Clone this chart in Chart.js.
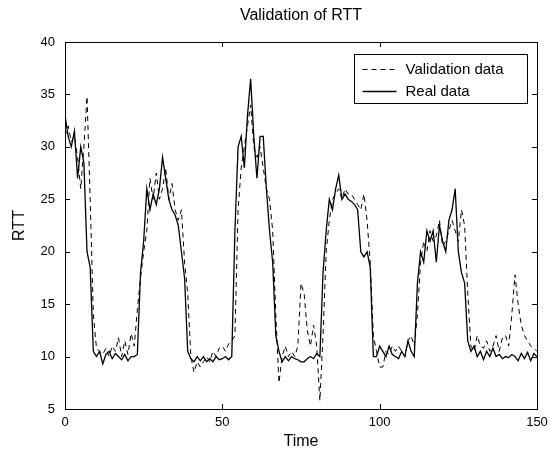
<!DOCTYPE html>
<html>
<head>
<meta charset="utf-8">
<script src="https://cdn.jsdelivr.net/npm/chart.js@4"></script>
<style>
html,body{margin:0;padding:0;background:#fff;}
#c{display:block;}
</style>
</head>
<body>
<canvas id="c" width="550" height="459"></canvas>
<script>
const chartTitle = "Validation of RTT";
const xTitle = "Time";
const yTitle = "RTT";
const xTicks = [0, 50, 100, 150];
const yTicks = [5, 10, 15, 20, 25, 30, 35, 40];
const seriesNames = ["Validation data", "Real data"];

const realData = [
 33, 31, 30, 31.5, 27, 30, 28.5, 20, 18.5, 10.5,
 10, 10.5, 9.3, 10.2, 10.5, 9.8, 10.3, 10, 9.7, 10.2,
 9.6, 10, 10, 10.2, 18, 21, 26, 24, 25.5, 24.5,
 26, 29, 27, 25, 24, 23.5, 22.5, 20, 17.5, 10.5,
 9.8, 9.5, 10, 9.6, 10, 9.5, 9.8, 9.5, 10, 9.7,
 9.8, 10, 9.7, 10, 22, 30, 31, 28, 33, 36.5,
 31, 27, 31, 31, 26, 22, 19, 12, 10.5, 9.5,
 10, 9.6, 10, 9.8, 9.7, 9.5, 9.5, 9.8, 10, 9.8,
 10.3, 10, 18, 22, 25, 24, 26, 27.3, 25, 25.5,
 25, 24.8, 24.5, 24, 20, 19.5, 20, 18.5, 10, 10,
 11, 10.5, 10, 11, 10.2, 10, 9.8, 10.5, 10, 11.5,
 10.5, 10, 17, 20, 19, 22, 21, 22, 19, 22.5,
 21, 20, 23, 24, 26, 20, 18, 17, 11.5, 10.5,
 11, 10, 10.5, 9.7, 10.5, 10, 10.8, 10, 10.2, 9.8,
 10, 9.9, 10.2, 10, 9.6, 10.3, 9.8, 10.4, 9.6, 10.3,
 10
];

const validationData = [
 31, 32, 30.5, 31, 29, 26, 30, 34.8, 25, 14,
 10.8, 10.5, 10.2, 10.8, 10, 11, 10.5, 11.8, 10, 11.5,
 10.2, 12.2, 11, 14.5, 17.5, 20, 22, 27, 25, 27.5,
 25, 26, 28, 25, 26.5, 24, 23, 24, 19, 16,
 10, 8.5, 9.5, 9, 9.5, 10, 9.5, 10.5, 10, 10.8,
 11, 10.5, 11.2, 11.5, 12, 24, 28, 30, 32, 34,
 30, 29, 30, 28, 26, 25, 22, 14, 7.5, 10,
 11, 10, 10.5, 10, 11, 17, 16, 12.5, 11, 13,
 11, 5.8, 12, 20, 23, 25, 25.5, 26, 25, 26,
 25.5, 25.5, 25, 24.5, 24, 25.5, 23, 19, 12, 10.5,
 9, 9, 10.5, 10.2, 11, 10.5, 11, 10.5, 10, 11.5,
 12, 11, 14, 19, 21, 20, 22, 21, 21.5, 23,
 20.5, 21, 22, 23, 22, 21, 24, 22.5, 16, 11,
 10.5, 12, 11, 10.8, 11.5, 10.5, 11, 12, 10.5, 11.8,
 12, 11, 14, 17.8, 15, 13, 12, 11.5, 11, 10.8,
 10.5
];

const time = realData.map((_, i) => i);

function toXY(vals) { return vals.map((v, i) => ({x: time[i], y: v})); }

const FONT = "'Liberation Sans', Arial, Helvetica, sans-serif";

const boxTicksPlugin = {
  id: 'boxTicks',
  afterDraw(chart) {
    const ctx = chart.ctx, a = chart.chartArea;
    const xs = chart.scales.x, ys = chart.scales.y;
    ctx.save();
    ctx.strokeStyle = '#000';
    ctx.lineWidth = 1;
    ctx.strokeRect(Math.round(a.left) + 0.5, Math.round(a.top) + 0.5,
                   Math.round(a.right - a.left), Math.round(a.bottom - a.top));
    const L = 5;
    ctx.beginPath();
    xTicks.forEach(v => {
      const px = Math.round(xs.getPixelForValue(v)) + 0.5;
      ctx.moveTo(px, a.bottom); ctx.lineTo(px, a.bottom - L);
      ctx.moveTo(px, a.top); ctx.lineTo(px, a.top + L);
    });
    yTicks.forEach(v => {
      const py = Math.round(ys.getPixelForValue(v)) + 0.5;
      ctx.moveTo(a.left, py); ctx.lineTo(a.left + L, py);
      ctx.moveTo(a.right, py); ctx.lineTo(a.right - L, py);
    });
    ctx.stroke();

    // title
    ctx.fillStyle = '#000';
    ctx.font = '16px ' + FONT;
    ctx.textAlign = 'center';
    ctx.textBaseline = 'middle';
    ctx.fillText(chartTitle, (a.left + a.right) / 2, 16);

    // legend box
    const bw = 173, bh = 49;
    const bx = Math.round(a.right - 183) + 0.5, by = Math.round(a.top + 12) + 0.5;
    ctx.fillStyle = '#fff';
    ctx.fillRect(bx, by, bw, bh);
    ctx.strokeRect(bx, by, bw, bh);
    const ds = chart.data.datasets;
    ds.forEach((d, i) => {
      const ly = Math.round(by + 14 + i * 22) + 0.5;
      ctx.beginPath();
      ctx.setLineDash(d.borderDash || []);
      ctx.lineWidth = d.borderWidth;
      ctx.moveTo(bx + 8, ly); ctx.lineTo(bx + 42, ly);
      ctx.stroke();
      ctx.setLineDash([]);
      ctx.fillStyle = '#000';
      ctx.font = '15px ' + FONT;
      ctx.textAlign = 'left';
      ctx.textBaseline = 'middle';
      ctx.fillText(d.label, bx + 51, ly);
    });
    ctx.restore();
  }
};

new Chart(document.getElementById('c'), {
  type: 'line',
  data: {
    datasets: [
      { label: seriesNames[0], data: toXY(validationData), borderColor: '#000',
        borderWidth: 1, borderDash: [5, 4], pointRadius: 0, tension: 0, fill: false },
      { label: seriesNames[1], data: toXY(realData), borderColor: '#000',
        borderWidth: 1.3, pointRadius: 0, tension: 0, fill: false }
    ]
  },
  options: {
    responsive: false,
    animation: false,
    devicePixelRatio: 1,
    layout: { padding: { top: 42, right: 13, left: 0, bottom: 0 } },
    plugins: { legend: { display: false }, title: { display: false }, tooltip: { enabled: false } },
    scales: {
      x: {
        type: 'linear', min: 0, max: 150,
        afterBuildTicks: s => { s.ticks = xTicks.map(v => ({value: v})); },
        afterFit: s => { s.height = 50; s.paddingLeft = 0; s.paddingRight = 0; },
        grid: { display: false, drawTicks: false },
        border: { display: false },
        ticks: { color: '#000', font: { size: 13, family: FONT }, padding: 6, maxRotation: 0 },
        title: { display: true, text: xTitle, color: '#000', font: { size: 16, family: FONT }, padding: { top: 2, bottom: 8 } }
      },
      y: {
        type: 'linear', min: 5, max: 40,
        afterBuildTicks: s => { s.ticks = yTicks.map(v => ({value: v})); },
        afterFit: s => { s.width = 65; s.paddingTop = 0; s.paddingBottom = 0; },
        grid: { display: false, drawTicks: false },
        border: { display: false },
        ticks: { color: '#000', font: { size: 13, family: FONT }, padding: 10 },
        title: { display: true, text: yTitle, color: '#000', font: { size: 16, family: FONT }, padding: { top: 10, bottom: 4 } }
      }
    }
  },
  plugins: [boxTicksPlugin]
});
</script>
</body>
</html>
